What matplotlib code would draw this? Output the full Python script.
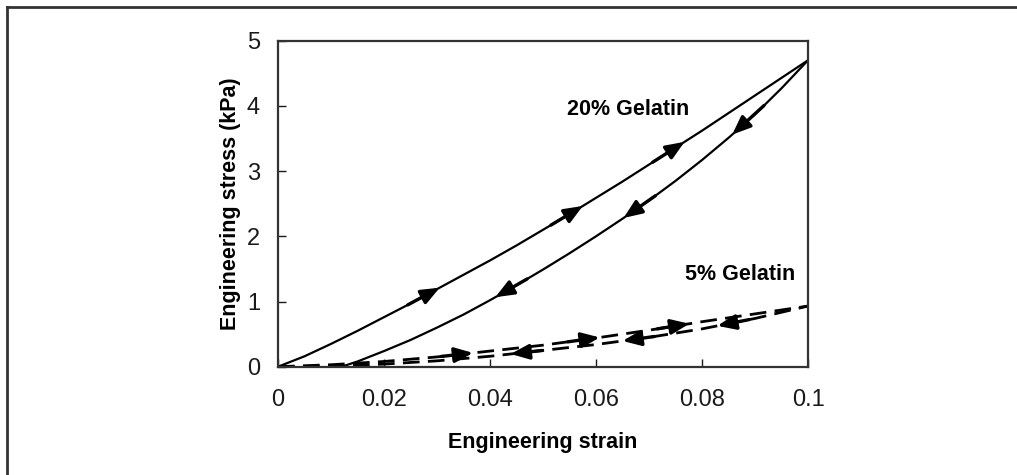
import numpy as np
import matplotlib.pyplot as plt
from matplotlib.lines import Line2D

plt.rcParams['font.family'] = ['Liberation Sans', 'DejaVu Sans']

# 20% gelatin, loading and unloading (kPa)
g20_load_strain = [0.0, 0.005, 0.01, 0.015, 0.02, 0.025, 0.03, 0.035, 0.04, 0.045, 0.05,
                   0.055, 0.06, 0.065, 0.07, 0.075, 0.08, 0.085, 0.09, 0.095, 0.1]
g20_load = [0.0, 0.16, 0.35, 0.55, 0.76, 0.97, 1.19, 1.41, 1.63, 1.86, 2.1,
            2.34, 2.59, 2.84, 3.1, 3.36, 3.62, 3.89, 4.16, 4.43, 4.7]
g20_unload_strain = [0.012, 0.015, 0.02, 0.025, 0.03, 0.035, 0.04, 0.045, 0.05, 0.055,
                     0.06, 0.065, 0.07, 0.075, 0.08, 0.085, 0.09, 0.095, 0.1]
g20_unload = [0.0, 0.08, 0.24, 0.41, 0.6, 0.8, 1.02, 1.25, 1.49, 1.74,
              2.0, 2.27, 2.55, 2.85, 3.17, 3.51, 3.87, 4.27, 4.7]

# 5% gelatin, loading and unloading (kPa)
g5_strain = [0.0, 0.01, 0.02, 0.03, 0.04, 0.05, 0.06, 0.07, 0.08, 0.09, 0.1]
g5_load = [0.0, 0.03, 0.08, 0.15, 0.24, 0.33, 0.44, 0.56, 0.69, 0.81, 0.93]
g5_unload = [0.0, 0.0, 0.04, 0.09, 0.16, 0.25, 0.34, 0.45, 0.58, 0.74, 0.93]

# where the direction arrows sit (strain)
g20_load_arrows = [0.0287, 0.0557, 0.0749]
g20_unload_arrows = [0.0428, 0.067, 0.0875]
g5_load_arrows = [0.035, 0.0589, 0.0758]
g5_unload_arrows = [0.0457, 0.0668, 0.0847]

fig = plt.figure(figsize=(10.17, 4.75), dpi=100)
ax = fig.add_axes([0.2734, 0.228, 0.5211, 0.6863])

ax.plot(g20_load_strain, g20_load, color='black', lw=1.6)
ax.plot(g20_unload_strain, g20_unload, color='black', lw=1.6)
ax.plot(g5_strain, g5_load, color='black', lw=2.0, dashes=(6, 3))
ax.plot(g5_strain, g5_unload, color='black', lw=2.0, dashes=(6, 3))


def add_arrows(xs, ys, where, forward):
    sign = 1 if forward else -1
    for x in where:
        x_tip = x + sign * 0.0018
        x_tail = x - sign * 0.0042
        ax.annotate('', xy=(x_tip, np.interp(x_tip, xs, ys)),
                    xytext=(x_tail, np.interp(x_tail, xs, ys)),
                    arrowprops=dict(arrowstyle='-|>,head_length=1.1,head_width=0.45',
                                    color='black', lw=2.4, shrinkA=0, shrinkB=0))


add_arrows(g20_load_strain, g20_load, g20_load_arrows, True)
add_arrows(g20_unload_strain, g20_unload, g20_unload_arrows, False)
add_arrows(g5_strain, g5_load, g5_load_arrows, True)
add_arrows(g5_strain, g5_unload, g5_unload_arrows, False)

ax.text(0.066, 3.94, '20% Gelatin', fontsize=15.5, fontweight='bold', ha='center', va='center')
ax.text(0.0872, 1.42, '5% Gelatin', fontsize=15.5, fontweight='bold', ha='center', va='center')

ax.set_xlim(0, 0.1)
ax.set_ylim(0, 5)
ax.set_xticks([0, 0.02, 0.04, 0.06, 0.08, 0.1])
ax.set_xticklabels(['0', '0.02', '0.04', '0.06', '0.08', '0.1'])
ax.set_yticks([0, 1, 2, 3, 4, 5])
ax.tick_params(direction='in', length=6, width=1, labelsize=17, colors='#1a1a1a')
ax.tick_params(axis='x', pad=16)
ax.tick_params(axis='y', pad=13)
for s in ax.spines.values():
    s.set_linewidth(1.6)
    s.set_color('#333333')

ax.set_xlabel('Engineering strain', fontsize=15.5, fontweight='bold', labelpad=15)
ax.set_ylabel('Engineering stress (kPa)', fontsize=15.5, fontweight='bold', labelpad=4)

# frame around the figure
fig.add_artist(Line2D([0.0069, 0.0069], [0.0, 0.986], transform=fig.transFigure,
                      color='#333333', lw=2.0))
fig.add_artist(Line2D([0.0069, 1.0], [0.986, 0.986], transform=fig.transFigure,
                      color='#333333', lw=2.0))

fig.savefig('out.png', dpi=100)
